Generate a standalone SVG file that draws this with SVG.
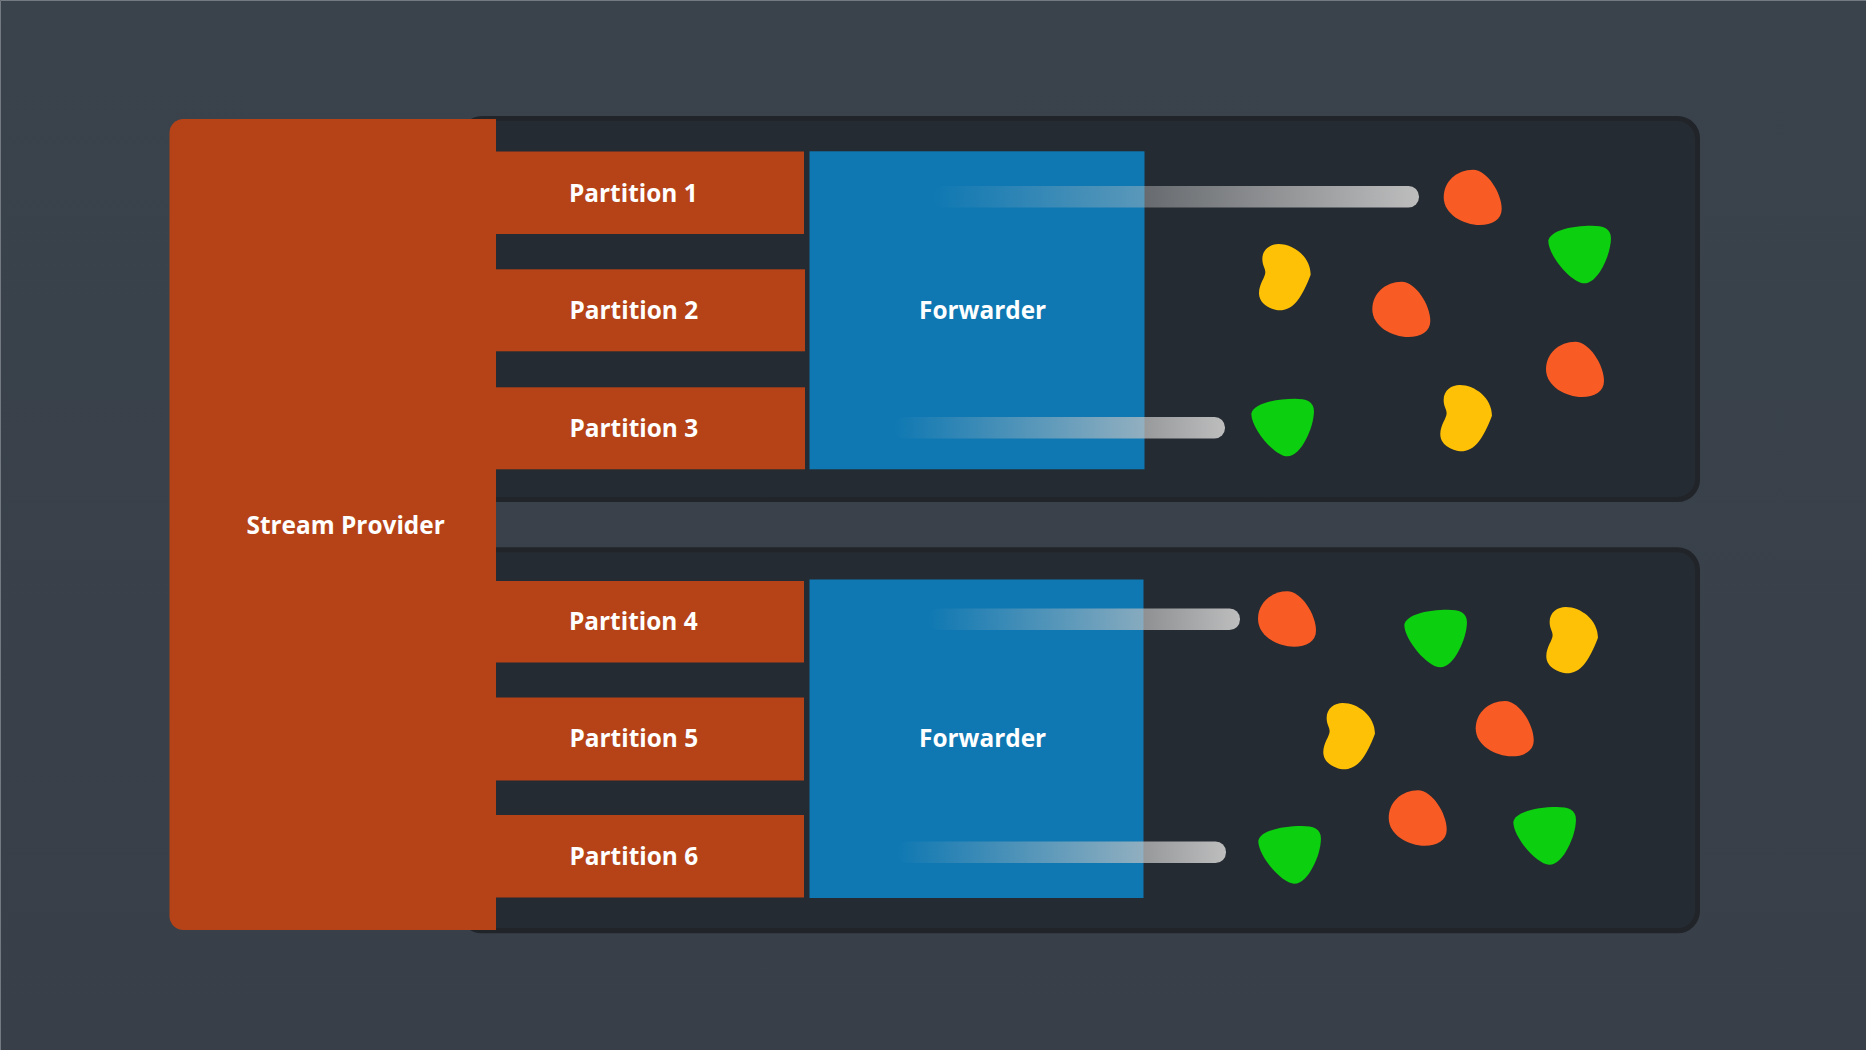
<svg xmlns="http://www.w3.org/2000/svg" width="1866" height="1050" viewBox="0 0 1866 1050">
<style>
.panel{fill:#252b32;stroke:#212429;stroke-width:5}
.prov{fill:#b54317}
.fwd{fill:#0f78b2}
.lbl{font-family:"Open Sans","Noto Sans","Liberation Sans",sans-serif;font-weight:700;font-size:24.4px;fill:#fff}
.o{fill:#f95b24}.g{fill:#0ccf0f}.y{fill:#ffc105}
.bar{fill:url(#fade)}
</style>
<defs>
<linearGradient id="bg" x1="0" y1="0" x2="0" y2="1"><stop offset="0" stop-color="#3a424c"/><stop offset="1" stop-color="#383f49"/></linearGradient>
<linearGradient id="fade" x1="0" y1="0" x2="1" y2="0"><stop offset="0" stop-color="#c5c5c5" stop-opacity="0"/><stop offset="1" stop-color="#c5c5c5" stop-opacity="0.95"/></linearGradient>
<path id="bo" transform="scale(.3333)" d="M88,0C130,0 174,70 174,118C174,150 145,166 108,166C60,166 0,135 0,82C0,35 40,0 88,0Z"/>
<path id="bg1" transform="scale(.3333)" d="M0,45C5,15 70,0 130,0C165,0 188,8 188,38C188,85 150,173 108,173C70,173 0,90 0,45Z"/>
<path id="by" transform="scale(.3333)" d="M58,0C105,0 155,40 155,92C150,105 135,145 115,170C100,190 80,199 62,199C45,199 0,185 0,148C0,120 19,100 19,85C19,72 10,65 10,45C10,15 35,0 58,0Z"/>
</defs>
<rect id="background" width="1866" height="1050" fill="url(#bg)"/>
<path d="M0.5,1050V0.5H1866" fill="none" stroke="#737a82" stroke-width="1"/>
<g id="panel-1"><rect class="panel" x="462" y="118.500" width="1235.500" height="381" rx="20"/></g>
<g id="panel-2"><rect class="panel" x="462" y="549.800" width="1235.500" height="381" rx="20"/></g>
<g id="stream-provider"><path class="prov" d="M183.500,119H496V930H183.500A14,14 0 0 1 169.500,916V133A14,14 0 0 1 183.500,119Z"/><text class="lbl" x="246.500" y="534">Stream Provider</text></g>
<g id="partition-1"><rect class="prov" x="496" y="151.500" width="308" height="82.500"/><text class="lbl" x="569" y="202">Partition 1</text></g>
<g id="partition-2"><rect class="prov" x="496" y="269.300" width="309" height="82"/><text class="lbl" x="569.500" y="319">Partition 2</text></g>
<g id="partition-3"><rect class="prov" x="496" y="387.300" width="309" height="82"/><text class="lbl" x="569.500" y="437">Partition 3</text></g>
<g id="partition-4"><rect class="prov" x="496" y="581" width="308" height="81.500"/><text class="lbl" x="569" y="630">Partition 4</text></g>
<g id="partition-5"><rect class="prov" x="496" y="697.500" width="308" height="83"/><text class="lbl" x="569.500" y="747">Partition 5</text></g>
<g id="partition-6"><rect class="prov" x="496" y="815" width="308" height="82.500"/><text class="lbl" x="569.500" y="865">Partition 6</text></g>
<g id="forwarder-1"><rect class="fwd" x="809.500" y="151.300" width="335" height="318"/><text class="lbl" x="919" y="319">Forwarder</text></g>
<g id="forwarder-2"><rect class="fwd" x="809.500" y="579.500" width="334" height="318.500"/><text class="lbl" x="919" y="747">Forwarder</text></g>
<g id="connectors">
<rect class="bar" x="933" y="186" width="486" height="21.500" rx="10.500"/>
<rect class="bar" x="894" y="417" width="331" height="21.500" rx="10.500"/>
<rect class="bar" x="928" y="608.500" width="312" height="21.500" rx="10.500"/>
<rect class="bar" x="897" y="841.500" width="329" height="21.500" rx="10.500"/>
</g>
<g id="events">
<use href="#bo" class="o" x="1443.700" y="169.700"/>
<use href="#bo" class="o" x="1372.300" y="281.700"/>
<use href="#bo" class="o" x="1546" y="341.700"/>
<use href="#bg1" class="g" x="1548.300" y="225.700"/>
<use href="#bg1" class="g" x="1251.300" y="398.700"/>
<use href="#by" class="y" x="1259" y="244"/>
<use href="#by" class="y" x="1440.300" y="385"/>
<use href="#bo" class="o" x="1258" y="591.300"/>
<use href="#bo" class="o" x="1475.700" y="701"/>
<use href="#bo" class="o" x="1388.700" y="790.300"/>
<use href="#bg1" class="g" x="1404.300" y="609.700"/>
<use href="#bg1" class="g" x="1258.300" y="826"/>
<use href="#bg1" class="g" x="1513.300" y="807"/>
<use href="#by" class="y" x="1546.300" y="607"/>
<use href="#by" class="y" x="1323.300" y="703"/>
</g>
</svg>
